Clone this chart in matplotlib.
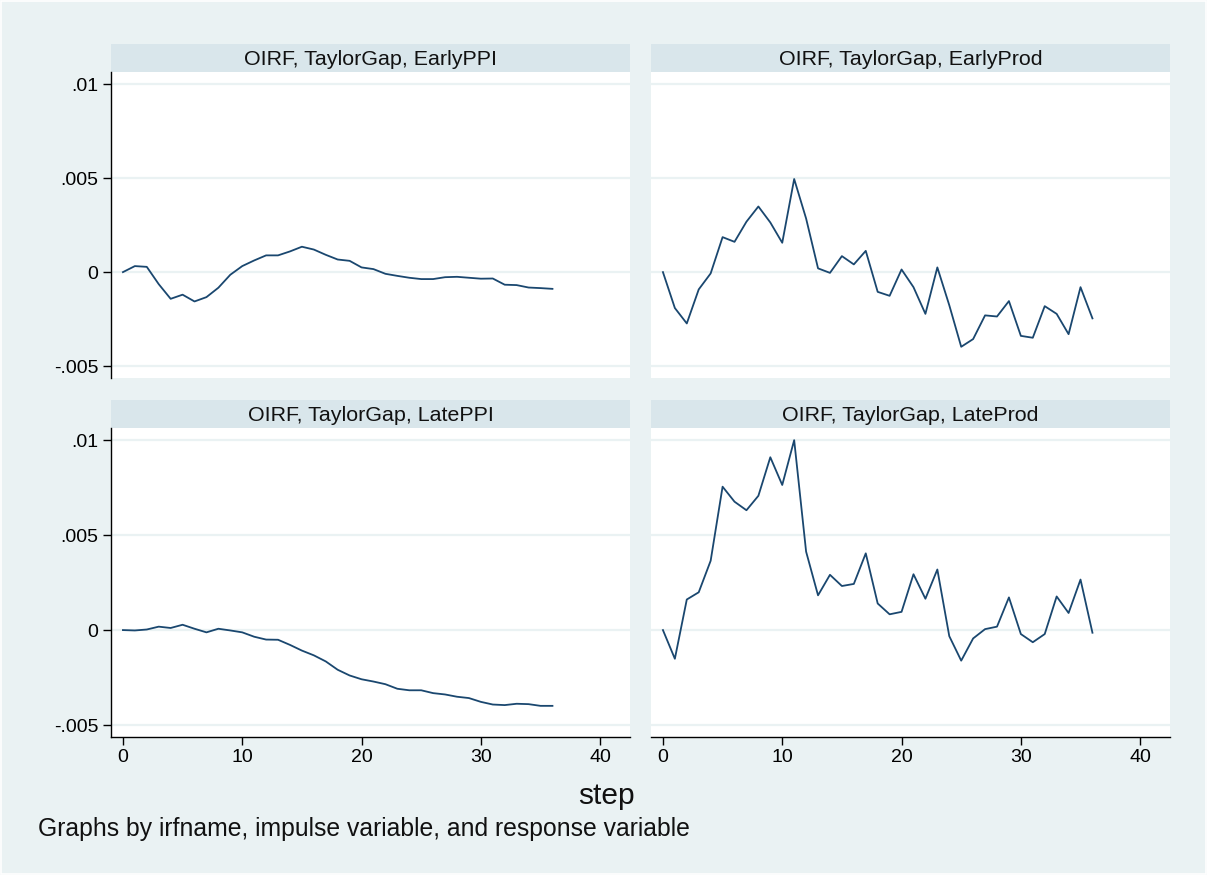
import numpy as np
import matplotlib
matplotlib.use("Agg")
import matplotlib.pyplot as plt
from matplotlib.patches import Rectangle

plt.rcParams['font.family'] = ['Liberation Sans', 'DejaVu Sans']

# OIRF responses to a TaylorGap shock, steps 0..36
steps = list(range(37))
early_ppi = [0, 0.00032, 0.00028, -0.00064, -0.00142, -0.0012, -0.00156, -0.00133, -0.00083, -0.00014,
             0.00032, 0.00062, 0.00089, 0.00089, 0.0011, 0.00135, 0.0012, 0.00092, 0.00067, 0.0006,
             0.00025, 0.00016, -0.00009, -0.0002, -0.0003, -0.00037, -0.00037, -0.00027, -0.00025, -0.0003,
             -0.00035, -0.00034, -0.00067, -0.00069, -0.00082, -0.00085, -0.00089]
early_prod = [0, -0.00191, -0.00273, -0.00092, -0.00007, 0.00186, 0.00161, 0.00268, 0.00349, 0.00264,
              0.00156, 0.00495, 0.00285, 0.0002, -0.00004, 0.00085, 0.00041, 0.00113, -0.00105, -0.00126,
              0.00014, -0.0008, -0.00222, 0.00025, -0.00176, -0.00397, -0.00356, -0.0023, -0.00236, -0.00154,
              -0.00339, -0.00349, -0.00181, -0.00222, -0.0033, -0.0008, -0.00246]
late_ppi = [0, -0.00002, 0.00003, 0.00018, 0.00011, 0.00028, 0.00007, -0.00012, 0.00007, -0.00002,
            -0.00012, -0.00035, -0.0005, -0.00051, -0.00078, -0.00108, -0.00133, -0.00165, -0.00209, -0.00239,
            -0.00259, -0.00271, -0.00285, -0.00309, -0.00317, -0.00317, -0.00332, -0.00339, -0.00351, -0.00358,
            -0.00378, -0.00392, -0.00395, -0.00388, -0.0039, -0.00399, -0.00399]
late_prod = [0, -0.00151, 0.00161, 0.00199, 0.00365, 0.00755, 0.00676, 0.00631, 0.00707, 0.0091,
             0.00764, 0.01, 0.00413, 0.00183, 0.00291, 0.00232, 0.00243, 0.00404, 0.0014, 0.00083,
             0.00096, 0.00294, 0.00165, 0.00319, -0.00032, -0.00161, -0.00044, 0.00005, 0.00018, 0.00172,
             -0.00021, -0.00064, -0.00021, 0.00177, 0.0009, 0.00266, -0.00014]

titles = ["OIRF, TaylorGap, EarlyPPI", "OIRF, TaylorGap, EarlyProd",
          "OIRF, TaylorGap, LatePPI", "OIRF, TaylorGap, LateProd"]
series = [early_ppi, early_prod, late_ppi, late_prod]
yticks = [-0.005, 0, 0.005, 0.01]
ytick_labels = ["-.005", "0", ".005", ".01"]
xticks = [0, 10, 20, 30, 40]

BG = "#EAF2F3"
STRIP = "#D9E6EB"
LINE = "#1A476F"

W, H = 1207, 875
fig = plt.figure(figsize=(W / 100, H / 100), dpi=100, facecolor=BG)
# thin white outer frame like the Stata export
fig.patches.append(Rectangle((0.001, 0.001), 0.998, 0.998, transform=fig.transFigure,
                             fill=False, edgecolor="white", lw=1.2))


def box(x0, y0, x1, y1):
    # pixel box (top-left origin) -> figure fraction rect
    return [x0 / W, 1 - y1 / H, (x1 - x0) / W, (y1 - y0) / H]


# x pixel ranges of the two columns, y pixel ranges of the two rows
cols = [(111, 630), (651, 1170)]
rows = [(44, 72, 378), (400, 428, 737)]

for k in range(4):
    r, c = divmod(k, 2)
    x0, x1 = cols[c]
    s0, p0, p1 = rows[r]

    # title strip
    sax = fig.add_axes(box(x0, s0, x1, p0))
    sax.set_facecolor(STRIP)
    sax.set_xticks([])
    sax.set_yticks([])
    for sp in sax.spines.values():
        sp.set_visible(False)
    sax.text(0.5, 0.45, titles[k], ha="center", va="center", fontsize=15.4, color="#111111",
             transform=sax.transAxes)

    ax = fig.add_axes(box(x0, p0, x1, p1))
    ax.set_facecolor("white")
    ax.plot(steps, series[k], color=LINE, lw=1.3)
    ax.set_xlim(-1, 42.5)
    ax.set_ylim(-0.00563, 0.01064)
    ax.set_yticks(yticks)
    for y in yticks:
        ax.axhline(y, color=BG, lw=1.6, zorder=0)
    for sp in ["top", "right"]:
        ax.spines[sp].set_visible(False)
    ax.spines["left"].set_color("#000000")
    ax.spines["left"].set_linewidth(1.0)
    if c == 0:
        ax.set_yticklabels(ytick_labels)
        ax.tick_params(axis="y", length=6, width=1.0, labelsize=14, pad=3)
    else:
        ax.spines["left"].set_visible(False)
        ax.tick_params(axis="y", length=0, labelleft=False)
    if r == 1:
        ax.set_xticks(xticks)
        ax.spines["bottom"].set_color("#000000")
        ax.spines["bottom"].set_linewidth(1.0)
        ax.tick_params(axis="x", length=6, width=1.0, labelsize=14, pad=3)
    else:
        ax.spines["bottom"].set_visible(False)
        ax.set_xticks([])

fig.text(606 / W, 1 - 796 / H, "step", ha="center", va="center", fontsize=21.5, color="#111111")
fig.text(38 / W, 1 - 829 / H, "Graphs by irfname, impulse variable, and response variable",
         ha="left", va="center", fontsize=17.8, color="#111111")

fig.savefig("out.png", dpi=100, facecolor=BG)
